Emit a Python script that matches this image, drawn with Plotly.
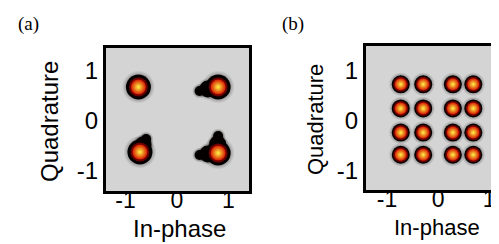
import plotly.graph_objects as go

# ---- data ----
qpsk_i = [-0.75, 0.80, -0.72, 0.80]
qpsk_q = [0.68, 0.68, -0.62, -0.64]
# spread (tail) points of the distorted QPSK clouds
qpsk_near_i = [0.60, 0.60, 0.79, -0.66]
qpsk_near_q = [0.64, -0.66, -0.46, -0.48]
qpsk_far_i = [0.44, 0.44, 0.80, -0.60]
qpsk_far_q = [0.60, -0.68, -0.30, -0.36]

qam_levels_i = [-0.73, -0.29, 0.29, 0.69]
qam_levels_q = [0.72, 0.24, -0.24, -0.68]
qam_i = [x for y in qam_levels_q for x in qam_levels_i]
qam_q = [y for y in qam_levels_q for x in qam_levels_i]

xticks = [-1, 0, 1]
yticks = [-1, 0, 1]
ticktext = ["-1", "0", "1"]

FONT = "Liberation Sans, Arial, sans-serif"

fig = go.Figure()

def add(xs, ys, xa, ya, marker):
    fig.add_trace(go.Scatter(x=xs, y=ys, mode="markers", xaxis=xa, yaxis=ya,
                             marker=marker, hoverinfo="skip", showlegend=False))

def black(size, fuzzy=False):
    if fuzzy:
        return dict(size=size, color="rgba(0,0,0,0)", line=dict(width=0),
                    gradient=dict(type="radial", color="rgba(0,0,0,1)"))
    return dict(size=size, color="rgb(5,0,0)", line=dict(width=0))

def cloud(xs, ys, xa, ya, halo, body, ring, core):
    add(xs, ys, xa, ya, black(halo, True))
    add(xs, ys, xa, ya, black(body))
    add(xs, ys, xa, ya, dict(size=ring, color="rgb(110,0,0)", line=dict(width=0)))
    add(xs, ys, xa, ya, dict(size=core, color="rgb(215,25,0)", line=dict(width=0),
                             gradient=dict(type="radial", color="rgb(255,245,70)")))

# QPSK (a)
add(qpsk_far_i, qpsk_far_q, "x", "y", black(15, True))
add(qpsk_far_i, qpsk_far_q, "x", "y", black(10))
add(qpsk_near_i, qpsk_near_q, "x", "y", black(22, True))
add(qpsk_near_i, qpsk_near_q, "x", "y", black(17))
cloud(qpsk_i, qpsk_q, "x", "y", 33, 25, 19, 15)
# 16-QAM (b)
cloud(qam_i, qam_q, "x2", "y2", 24, 18, 15, 12)

# invisible anchors so the tick-label axes get drawn
fig.add_trace(go.Scatter(x=xticks, y=[0, 0, 0], xaxis="x3", yaxis="y", mode="markers",
                         marker=dict(opacity=0), hoverinfo="skip", showlegend=False))
fig.add_trace(go.Scatter(x=xticks, y=[0, 0, 0], xaxis="x4", yaxis="y2", mode="markers",
                         marker=dict(opacity=0), hoverinfo="skip", showlegend=False))

line_ax = dict(showline=True, linewidth=3, linecolor="black", ticks="",
               showgrid=False, zeroline=False,
               tickfont=dict(family=FONT, size=24, color="black"))
label_ax = dict(showline=False, ticks="", showgrid=False, zeroline=False,
                tickvals=xticks, ticktext=ticktext,
                tickfont=dict(family=FONT, size=23, color="black"))

xr_a = [-1.38, 1.40]
xr_b = [-1.41, 1.35]

fig.update_layout(
    width=499, height=244,
    margin=dict(l=0, r=0, t=0, b=0),
    paper_bgcolor="white", plot_bgcolor="rgb(212,212,212)",
    showlegend=False,
    xaxis=dict(domain=[98/499, 241/499], range=xr_a, showticklabels=False,
               mirror=True, anchor="y", **line_ax),
    yaxis=dict(domain=[1-183/244, 1-40/244], range=[-1.40, 1.46], tickvals=yticks,
               ticktext=ticktext, mirror=True, anchor="x", **line_ax),
    xaxis2=dict(domain=[358/499, 1.0], range=xr_b, showticklabels=False,
                mirror=True, anchor="y2", **line_ax),
    yaxis2=dict(domain=[1-182/244, 1-38/244], range=[-1.38, 1.48], tickvals=yticks,
                ticktext=ticktext, mirror=False, anchor="x2", **line_ax),
    # tick-label axes (same scales), placed a little higher than the frame
    xaxis3=dict(overlaying="x", range=xr_a, anchor="free",
                position=(244-183+7)/244, **label_ax),
    xaxis4=dict(overlaying="x2", range=xr_b, anchor="free",
                position=(244-182+7)/244, **label_ax),
)

ann = [
    dict(text="(a)", x=20/499, y=1-16/244, font=dict(family="Liberation Serif, Times New Roman, serif", size=19)),
    dict(text="(b)", x=285/499, y=1-16/244, font=dict(family="Liberation Serif, Times New Roman, serif", size=19)),
    dict(text="In-phase", x=171/499, y=1-220/244, font=dict(family=FONT, size=24)),
    dict(text="Quadrature", x=42/499, y=1-114/244, textangle=-90, font=dict(family=FONT, size=24)),
    dict(text="In-phase", x=429/499, y=1-219/244, font=dict(family=FONT, size=22)),
    dict(text="Quadrature", x=307/499, y=1-112/244, textangle=-90, font=dict(family=FONT, size=22)),
]
for a in ann:
    a.update(xref="paper", yref="paper", showarrow=False, xanchor="center", yanchor="middle")
    a["font"]["color"] = "black"
fig.update_layout(annotations=ann)

fig.write_html("out.html")
